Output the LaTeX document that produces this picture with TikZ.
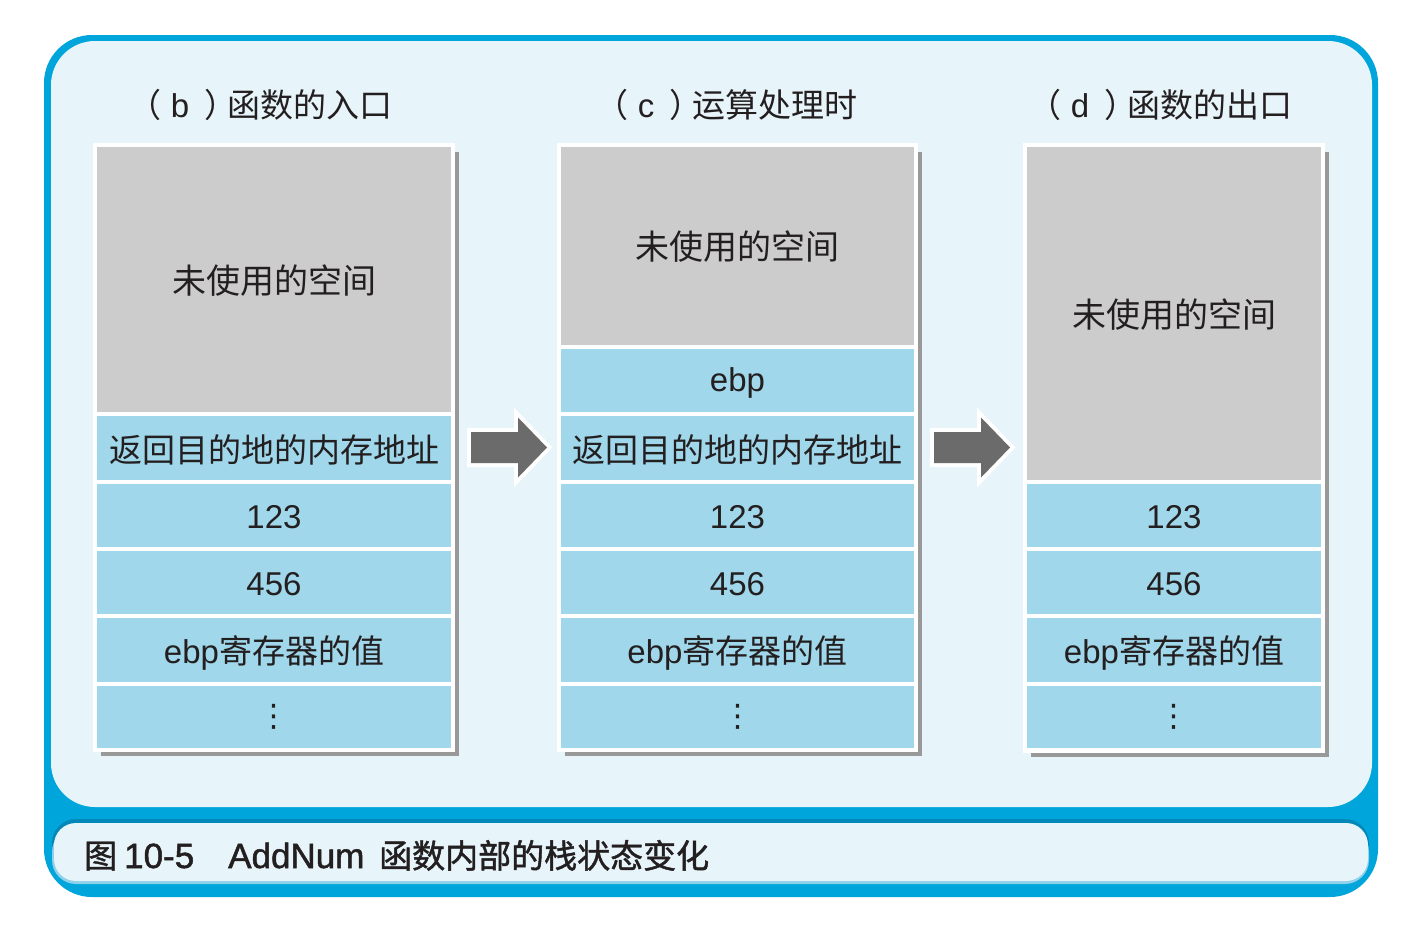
\documentclass[tikz,border=0pt]{standalone}
\usepackage{fontspec}
\setmainfont{Liberation Sans}
\newfontfamily\cj{Noto Sans CJK SC}
\newfontfamily\dotsfont{DejaVu Sans}
\newfontfamily\capfont[FakeBold=1.4]{Liberation Sans}
\newfontfamily\capcj[FakeBold=1.4]{Noto Sans CJK SC}
\definecolor{frameblue}{HTML}{00A5DB}
\definecolor{panel}{HTML}{E7F4F9}
\definecolor{darkblue}{HTML}{0088B8}
\definecolor{lightband}{HTML}{8ED1EA}
\definecolor{cellgrey}{HTML}{CCCCCC}
\definecolor{cellblue}{HTML}{A0D7EA}
\definecolor{shadowgrey}{HTML}{999999}
\definecolor{arrowgrey}{HTML}{6B6B6B}
\definecolor{ink}{HTML}{231F20}
\newcommand\zh[1]{{\cj #1}}
\newcommand\vd{{\dotsfont\fontsize{31}{31}\selectfont ⋮}}
\newcommand\mkcell[8]{%
  \node[cellbox,fill=#2,minimum width=#5,minimum height=#6] (#1) at (#3,#4) {};
  \node[celltext,yshift=#7] (#1t) at (#1.center) {#8};}
\newcommand\blockarrow[2]{%
  \draw[white,line width=8pt,line join=miter] (#1,#2) ++(0,-15.5) -- ++(47,0) -- ++(0,-14.5) -- ++(29,30) -- ++(-29,30) -- ++(0,-14.5) -- ++(-47,0) -- cycle;
  \fill[arrowgrey] (#1,#2) ++(0,-15.5) -- ++(47,0) -- ++(0,-14.5) -- ++(29,30) -- ++(-29,30) -- ++(0,-14.5) -- ++(-47,0) -- cycle;}
\begin{document}
\begin{tikzpicture}[x=1pt,y=-1pt,
  cellbox/.style={inner sep=0pt,outer sep=0pt,anchor=north west},
  celltext/.style={inner sep=0pt,text=ink,font=\fontsize{33}{33}\selectfont},
  titlenode/.style={inner sep=0pt,text=ink,font=\fontsize{33}{33}\selectfont},
  stackshadow/.style={fill=shadowgrey},
  stackframe/.style={fill=white}]
\useasboundingbox (0,0) rectangle (1420,926);
\fill[white] (0,0) rectangle (1420,926);
% frame
\fill[frameblue,rounded corners=48pt] (44,35) rectangle (1378,897);
\fill[panel,rounded corners=44pt] (51,41) rectangle (1372,807);
% caption bar
\fill[darkblue,rounded corners=24pt] (52,819) rectangle (1369,876);
\fill[lightband,rounded corners=24pt] (52,828) rectangle (1369,884);
\fill[panel,rounded corners=22pt] (54,823) rectangle (1368,881);
\node[inner sep=0pt,anchor=base west,text=ink,font=\fontsize{35}{35}\selectfont] (caption) at (84,868)
  {{\capcj\fontsize{33}{33}\selectfont 图}\capfont\hspace{7pt}10-5\hspace{34pt}AddNum\hspace{5pt} {\capcj\fontsize{33}{33}\selectfont 函数内部的栈状态变化}};
% titles
\node[titlenode] (tb) at (260.5,105) {\zh{（}\hspace{9pt}b\hspace{15pt}\zh{）}\hspace{-10pt}\zh{函数的入口}};
\node[titlenode] (tc) at (726.5,105) {\zh{（}\hspace{9pt}c\hspace{15pt}\zh{）}\hspace{-10pt}\zh{运算处理时}};
\node[titlenode] (td) at (1160.5,105) {\zh{（}\hspace{9pt}d\hspace{15pt}\zh{）}\hspace{-10pt}\zh{函数的出口}};
% stack b
\fill[stackshadow] (101,152) rectangle (459,756);
\fill[stackframe] (93,143) rectangle (455,752);
\mkcell{b0}{cellgrey}{97}{147}{354pt}{265pt}{-1pt}{\zh{\fontsize{34}{34}\selectfont 未使用的空间}}
\mkcell{b1}{cellblue}{97}{416}{354pt}{64pt}{-2pt}{\zh{返回目的地的内存地址}}
\mkcell{b2}{cellblue}{97}{484}{354pt}{63pt}{-2pt}{123}
\mkcell{b3}{cellblue}{97}{551}{354pt}{63pt}{-2pt}{456}
\mkcell{b4}{cellblue}{97}{618}{354pt}{64pt}{-3pt}{ebp\zh{寄存器的值}}
\mkcell{b5}{cellblue}{97}{686}{354pt}{62pt}{0pt}{\vd}
% stack c
\fill[stackshadow] (565,152) rectangle (922,756);
\fill[stackframe] (557,143) rectangle (918,752);
\mkcell{c0}{cellgrey}{561}{147}{353pt}{198pt}{-1pt}{\zh{\fontsize{34}{34}\selectfont 未使用的空间}}
\mkcell{c1}{cellblue}{561}{349}{353pt}{63pt}{-2pt}{ebp}
\mkcell{c2}{cellblue}{561}{416}{353pt}{64pt}{-2pt}{\zh{返回目的地的内存地址}}
\mkcell{c3}{cellblue}{561}{484}{353pt}{63pt}{-2pt}{123}
\mkcell{c4}{cellblue}{561}{551}{353pt}{63pt}{-2pt}{456}
\mkcell{c5}{cellblue}{561}{618}{353pt}{64pt}{-3pt}{ebp\zh{寄存器的值}}
\mkcell{c6}{cellblue}{561}{686}{353pt}{62pt}{0pt}{\vd}
% stack d
\fill[stackshadow] (1031,152) rectangle (1329,757);
\fill[stackframe] (1023,143) rectangle (1325,753);
\mkcell{d0}{cellgrey}{1027}{147}{294pt}{333pt}{-1pt}{\zh{\fontsize{34}{34}\selectfont 未使用的空间}}
\mkcell{d1}{cellblue}{1027}{484}{294pt}{63pt}{-2pt}{123}
\mkcell{d2}{cellblue}{1027}{551}{294pt}{63pt}{-2pt}{456}
\mkcell{d3}{cellblue}{1027}{618}{294pt}{64pt}{-3pt}{ebp\zh{寄存器的值}}
\mkcell{d4}{cellblue}{1027}{686}{294pt}{62pt}{0pt}{\vd}
% arrows
\blockarrow{471}{447.5}
\blockarrow{934}{447.5}
\end{tikzpicture}
\end{document}
